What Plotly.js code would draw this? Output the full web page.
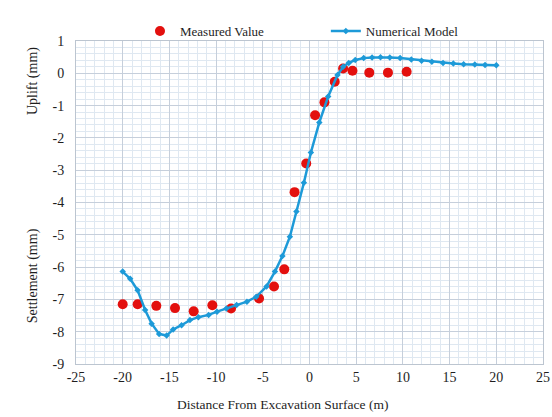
<!DOCTYPE html>
<html>
<head>
<meta charset="utf-8">
<script src="https://cdn.plot.ly/plotly-3.0.1.min.js"></script>
<style>html,body{margin:0;padding:0;background:#fff;}#chart{width:552px;height:417px;}</style>
</head>
<body>
<div id="chart"></div>
<script>
// Measured values
const measuredX = [-20, -18.4, -16.4, -14.4, -12.4, -10.4, -8.4, -5.4, -3.8, -2.7, -1.6, -0.35, 0.6, 1.6, 2.7, 3.6, 4.6, 6.4, 8.4, 10.4];
const measuredY = [-7.15, -7.15, -7.2, -7.27, -7.37, -7.18, -7.28, -6.97, -6.6, -6.07, -3.68, -2.79, -1.3, -0.9, -0.26, 0.15, 0.08, 0.02, 0.02, 0.05];

// Numerical model
const modelX = [-20, -19.2, -18.4, -17.6, -16.9, -16.1, -15.3, -14.6, -13.7, -12.8, -11.9, -10.8, -9.9, -8.9, -7.8, -6.7, -5.7, -4.6, -3.7, -2.9, -2.1, -1.4, -0.6, 0.15, 1.05, 2.0, 3.0, 3.6, 4.2, 4.9, 5.8, 6.7, 7.6, 8.6, 9.7, 10.9, 12.0, 13.1, 14.3, 15.4, 16.5, 17.7, 18.8, 20];
const modelY = [-6.14, -6.36, -6.72, -7.33, -7.75, -8.07, -8.12, -7.93, -7.8, -7.64, -7.55, -7.48, -7.38, -7.28, -7.17, -7.07, -6.92, -6.6, -6.14, -5.66, -5.06, -4.28, -3.39, -2.45, -1.52, -0.72, -0.05, 0.2, 0.32, 0.41, 0.47, 0.49, 0.5, 0.49, 0.47, 0.43, 0.39, 0.36, 0.32, 0.30, 0.28, 0.27, 0.26, 0.25];

// Tick labels
const xTickVals = [-25, -20, -15, -10, -5, 0, 5, 10, 15, 20, 25];
const xTickText = ['-25', '-20', '-15', '-10', '-5', '0', '5', '10', '15', '20', '25'];
const yTickVals = [1, 0, -1, -2, -3, -4, -5, -6, -7, -8, -9];
const yTickText = ['1', '0', '-1', '-2', '-3', '-4', '-5', '-6', '-7', '-8', '-9'];

const seriesNames = ['Measured Value', 'Numerical Model'];
const axisTitles = {x: 'Distance From Excavation Surface (m)', yTop: 'Uplift (mm)', yBottom: 'Settlement (mm)'};

const serif = 'Liberation Serif';
const textColor = '#1e1e1e';
const majorGrid = '#c6cfdb';
const minorGrid = '#dfe8f1';

const traces = [
  {
    x: measuredX, y: measuredY, name: seriesNames[0], type: 'scatter', mode: 'markers',
    marker: {color: '#e3100e', size: 10, line: {width: 0}},
    legend: 'legend'
  },
  {
    x: modelX, y: modelY, name: seriesNames[1], type: 'scatter', mode: 'lines+markers',
    line: {color: '#1d9ad8', width: 2.5},
    marker: {color: '#1d9ad8', size: 5, symbol: 'diamond'},
    legend: 'legend2'
  }
];

const layout = {
  width: 552, height: 417,
  margin: {l: 76, r: 9, t: 41, b: 53},
  paper_bgcolor: '#ffffff',
  plot_bgcolor: '#ffffff',
  font: {family: serif, size: 13, color: textColor},
  showlegend: true,
  legend: {
    x: 0.137, y: 1.031, xanchor: 'left', yanchor: 'middle', orientation: 'h',
    bgcolor: 'rgba(0,0,0,0)', font: {family: serif, size: 13, color: textColor}
  },
  legend2: {
    x: 0.535, y: 1.031, xanchor: 'left', yanchor: 'middle', orientation: 'h',
    bgcolor: 'rgba(0,0,0,0)', font: {family: serif, size: 13, color: textColor}
  },
  xaxis: {
    range: [-25, 25], tickmode: 'array', tickvals: xTickVals, ticktext: xTickText,
    showgrid: true, gridcolor: majorGrid, gridwidth: 1,
    minor: {dtick: 1, showgrid: true, gridcolor: minorGrid, gridwidth: 1},
    zeroline: false, showline: true, linecolor: '#bcc5d0', linewidth: 1, mirror: true,
    ticks: '', ticklen: 0,
    tickfont: {family: serif, size: 14, color: textColor},
    title: {text: ''}
  },
  yaxis: {
    range: [-9, 1], tickmode: 'array', tickvals: yTickVals, ticktext: yTickText,
    showgrid: true, gridcolor: majorGrid, gridwidth: 1,
    minor: {dtick: 0.2, showgrid: true, gridcolor: minorGrid, gridwidth: 1},
    zeroline: false, showline: true, linecolor: '#bcc5d0', linewidth: 1, mirror: true,
    ticks: '', ticklen: 0,
    ticklabelstandoff: 8,
    tickfont: {family: serif, size: 14, color: textColor},
    title: {text: ''}
  },
  annotations: [
    {text: axisTitles.x, xref: 'paper', yref: 'paper', x: 0.443, y: -0.095, xanchor: 'center', yanchor: 'top',
     showarrow: false, font: {family: serif, size: 13.5, color: textColor}},
    {text: axisTitles.yTop, xref: 'paper', yref: 'paper', x: -0.092, y: 0.876, xanchor: 'center', yanchor: 'middle',
     textangle: -90, showarrow: false, font: {family: serif, size: 14, color: textColor}},
    {text: axisTitles.yBottom, xref: 'paper', yref: 'paper', x: -0.092, y: 0.272, xanchor: 'center', yanchor: 'middle',
     textangle: -90, showarrow: false, font: {family: serif, size: 14, color: textColor}}
  ]
};

Plotly.newPlot('chart', traces, layout, {displayModeBar: false, staticPlot: true});
</script>
</body>
</html>
